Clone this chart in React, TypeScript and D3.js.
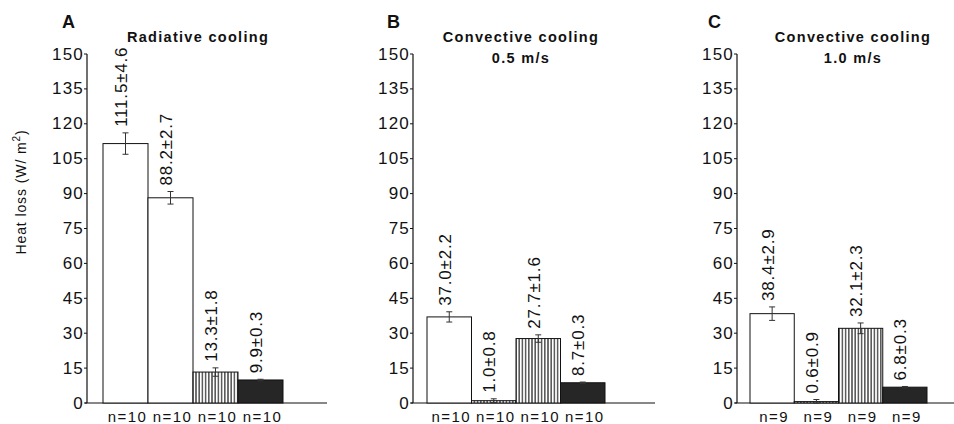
import React from "react";
import * as d3 from "d3";

const panelLetters = ["A", "B", "C"];
const panelTitles = [["Radiative cooling"], ["Convective cooling", "0.5 m/s"], ["Convective cooling", "1.0 m/s"]];
const meansA = [111.5, 88.2, 13.3, 9.9];
const semsA = [4.6, 2.7, 1.8, 0.3];
const meansB = [37.0, 1.0, 27.7, 8.7];
const semsB = [2.2, 0.8, 1.6, 0.3];
const meansC = [38.4, 0.6, 32.1, 6.8];
const semsC = [2.9, 0.9, 2.3, 0.3];
const nA = [10, 10, 10, 10];
const nB = [10, 10, 10, 10];
const nC = [9, 9, 9, 9];
const yTicks = [0, 15, 30, 45, 60, 75, 90, 105, 120, 135, 150];
const fills = ["white", "white", "url(#stripes)", "#262626"];
const fillsBC = ["white", "url(#stripes)", "url(#stripes)", "#262626"];

const layout = [
  { axisX: 87, barX: 103, barW: 180, baseEnd: 327, letterX: 62, titleX: 198 },
  { axisX: 413, barX: 427, barW: 178, baseEnd: 655, letterX: 387, titleX: 521 },
  { axisX: 737, barX: 750, barW: 177, baseEnd: 954, letterX: 708, titleX: 853 },
];

const font = "'Liberation Sans', Arial, Helvetica, sans-serif";

export default function App() {
  const W = 954, H = 424;
  const y = d3.scaleLinear().domain([0, 150]).range([403, 54]);
  const data = [
    { means: meansA, sems: semsA, ns: nA, fills },
    { means: meansB, sems: semsB, ns: nB, fills: fillsBC },
    { means: meansC, sems: semsC, ns: nC, fills: fillsBC },
  ];
  const fmt = d3.format(".1f");
  return (
    <svg width={W} height={H} style={{ position: "absolute", left: 0, top: 0, background: "white" }} fontFamily={font}>
      <defs>
        <pattern id="stripes" patternUnits="userSpaceOnUse" width="3.2" height="4">
          <rect width="3.2" height="4" fill="white" />
          <line x1="0.8" y1="0" x2="0.8" y2="4" stroke="#111" strokeWidth="1.1" />
        </pattern>
      </defs>
      <rect width={W} height={H} fill="white" />
      <text x={21} y={192} transform="rotate(-90 21 192)" textAnchor="middle" dominantBaseline="central" fontSize={14} letterSpacing={0.9} fill="#111">
        Heat loss (W/ m<tspan dy={-5} fontSize={10}>2</tspan><tspan dy={5}>)</tspan>
      </text>
      {data.map((d, pi) => {
        const L = layout[pi];
        const x = d3.scaleBand<number>().domain(d3.range(4)).range([L.barX, L.barX + L.barW]).padding(0);
        return (
          <g key={pi}>
            <text x={L.letterX} y={28} fontSize={18} fontWeight="bold" fill="#111">{panelLetters[pi]}</text>
            {panelTitles[pi].map((t, ti) => (
              <text key={ti} x={L.titleX} y={42 + ti * 21} textAnchor="middle" fontSize={14.5} fontWeight="bold" letterSpacing={1.3} fill="#111">{t}</text>
            ))}
            <line x1={L.axisX} x2={L.axisX} y1={y(150)} y2={y(0)} stroke="#111" strokeWidth={1.2} />
            <line x1={L.axisX - 2} x2={L.baseEnd} y1={y(0)} y2={y(0)} stroke="#111" strokeWidth={1.2} />
            {yTicks.map((t) => (
              <g key={t}>
                <line x1={L.axisX - 3} x2={L.axisX} y1={y(t)} y2={y(t)} stroke="#111" strokeWidth={1} />
                <text x={L.axisX - 3} y={y(t)} textAnchor="end" dominantBaseline="central" fontSize={17} letterSpacing={1.2} fill="#111">{t}</text>
              </g>
            ))}
            {d.means.map((m, i) => {
              const bx = x(i)!;
              const bw = x.bandwidth();
              const cx = bx + bw / 2;
              const top = y(m + d.sems[i]);
              const bot = y(Math.max(0, m - d.sems[i]));
              const ly = top - 6;
              return (
                <g key={i}>
                  <rect x={bx} y={y(m)} width={bw} height={y(0) - y(m)} fill={d.fills[i]} stroke="#111" strokeWidth={1} />
                  <line x1={cx} x2={cx} y1={top} y2={bot} stroke="#333" strokeWidth={1} />
                  <line x1={cx - 3} x2={cx + 3} y1={top} y2={top} stroke="#333" strokeWidth={1} />
                  <line x1={cx - 3} x2={cx + 3} y1={bot} y2={bot} stroke="#333" strokeWidth={1} />
                  <text x={cx - 4} y={ly} transform={`rotate(-90 ${cx - 4} ${ly})`} textAnchor="start" dominantBaseline="central" fontSize={17} letterSpacing={0.8} fill="#111">
                    {fmt(m)}±{fmt(d.sems[i])}
                  </text>
                  <text x={cx + 2} y={422} textAnchor="middle" fontSize={15} letterSpacing={1.4} fill="#111">n={d.ns[i]}</text>
                </g>
              );
            })}
          </g>
        );
      })}
    </svg>
  );
}
